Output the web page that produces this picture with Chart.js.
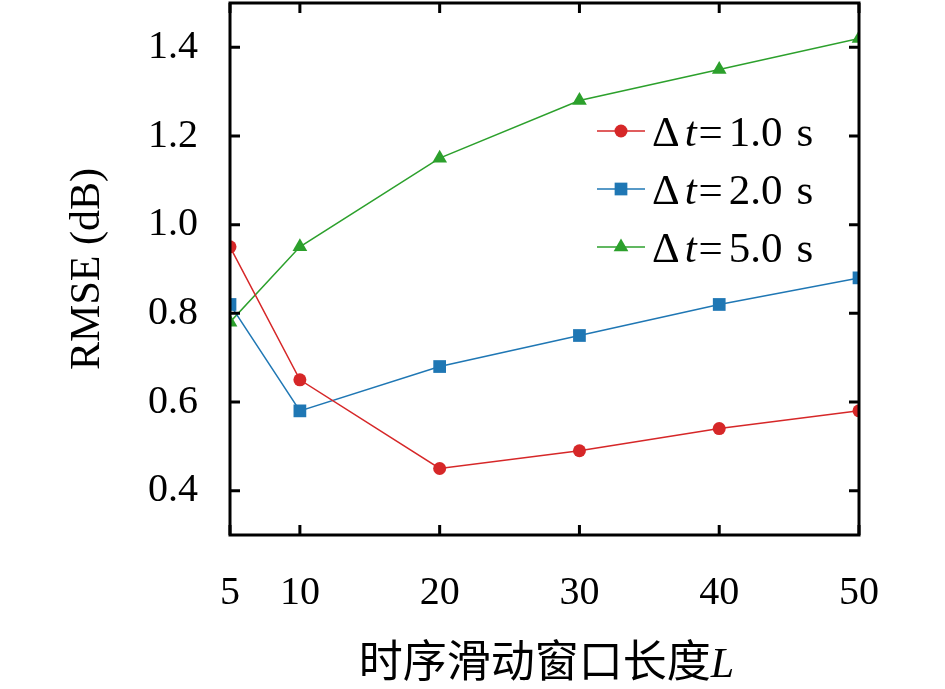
<!DOCTYPE html>
<html>
<head>
<meta charset="utf-8">
<script src="https://cdn.jsdelivr.net/npm/chart.js@4/dist/chart.umd.min.js"></script>
<style>
  html, body { margin: 0; padding: 0; background: #fff; }
  #wrap { width: 945px; height: 689px; }
</style>
</head>
<body>
<div id="wrap"><canvas id="rmseChart" width="945" height="689"></canvas></div>
<script>
const windowLengths = [5, 10, 20, 30, 40, 50];
const rmseDt1 = [0.95, 0.65, 0.45, 0.49, 0.54, 0.58];
const rmseDt2 = [0.82, 0.58, 0.68, 0.75, 0.82, 0.88];
const rmseDt5 = [0.78, 0.95, 1.15, 1.28, 1.35, 1.42];
const dtValues = ['1.0', '2.0', '5.0'];
const xTicks = [5, 10, 20, 30, 40, 50];
const yTicks = [0.4, 0.6, 0.8, 1.0, 1.2, 1.4];
const xTitle = '时序滑动窗口长度';
const xTitleVar = 'L';
const yTitle = 'RMSE (dB)';

const SERIF = '"Liberation Serif", "DejaVu Serif", serif';

function toPoints(ys) {
    return windowLengths.map((x, i) => ({ x: x, y: ys[i] }));
}

function makeSeries(ys, color, style, radius, dt) {
    return {
        label: 'Δt=' + dt + ' s',
        dt: dt,
        data: toPoints(ys),
        borderColor: color,
        backgroundColor: color,
        borderWidth: 1.5,
        pointStyle: style,
        pointRadius: radius,
        pointBackgroundColor: color,
        pointBorderWidth: 0,
        tension: 0,
        clip: 0
    };
}

// frame, inward ticks, legend and x title
const framePlugin = {
    id: 'frame',
    afterDraw(chart) {
        const ctx = chart.ctx;
        const a = chart.chartArea;
        const xs = chart.scales.x, ys = chart.scales.y;
        ctx.save();
        ctx.strokeStyle = '#000';
        ctx.lineWidth = 3;
        ctx.strokeRect(a.left, a.top, a.right - a.left, a.bottom - a.top);
        const tl = 10;
        ctx.beginPath();
        xTicks.forEach(v => {
            const px = xs.getPixelForValue(v);
            ctx.moveTo(px, a.bottom); ctx.lineTo(px, a.bottom - tl);
            ctx.moveTo(px, a.top); ctx.lineTo(px, a.top + tl);
        });
        yTicks.forEach(v => {
            const py = ys.getPixelForValue(v);
            ctx.moveTo(a.left, py); ctx.lineTo(a.left + tl, py);
            ctx.moveTo(a.right, py); ctx.lineTo(a.right - tl, py);
        });
        ctx.stroke();

        // legend
        const lx0 = 597, lx1 = 645, tx = 652;
        const rows = [131, 189, 247];
        const upright = '43px ' + SERIF, italic = 'italic 43px ' + SERIF;
        chart.data.datasets.forEach((ds, i) => {
            const y = rows[i];
            ctx.strokeStyle = ds.borderColor;
            ctx.fillStyle = ds.borderColor;
            ctx.lineWidth = 1.5;
            ctx.beginPath();
            ctx.moveTo(lx0, y); ctx.lineTo(lx1, y);
            ctx.stroke();
            Chart.helpers.drawPoint(ctx, {
                pointStyle: ds.pointStyle, radius: ds.pointRadius, rotation: 0, borderWidth: 0
            }, (lx0 + lx1) / 2, y);
            ctx.fillStyle = '#000';
            ctx.textBaseline = 'alphabetic';
            ctx.textAlign = 'left';
            const base = y + 15;
            const parts = [
                ['Δ', upright, 5], ['t', italic, 2], ['=', upright, 6],
                [ds.dt, upright, 14], ['s', upright, 0]
            ];
            let x = tx;
            parts.forEach(([txt, font, gap]) => {
                ctx.font = font;
                ctx.fillText(txt, x, base);
                x += ctx.measureText(txt).width + gap;
            });
        });

        // x axis title
        ctx.font = '44px "Noto Sans CJK SC", sans-serif';
        const w1 = ctx.measureText(xTitle).width;
        ctx.font = 'italic 42px ' + SERIF;
        const w2 = ctx.measureText(xTitleVar).width;
        let sx = (a.left + a.right) / 2 - (w1 + w2) / 2 + 2;
        const by = 677;
        ctx.font = '44px "Noto Sans CJK SC", sans-serif';
        ctx.fillText(xTitle, sx, by);
        ctx.font = 'italic 42px ' + SERIF;
        ctx.fillText(xTitleVar, sx + w1, by);
        ctx.restore();
    }
};

const ctx = document.getElementById('rmseChart').getContext('2d');
const chart = new Chart(ctx, {
    type: 'line',
    data: {
        datasets: [
            makeSeries(rmseDt1, '#d62728', 'circle', 6.5, dtValues[0]),
            makeSeries(rmseDt2, '#1f77b4', 'rect', 9, dtValues[1]),
            makeSeries(rmseDt5, '#2ca02c', 'triangle', 8.5, dtValues[2])
        ]
    },
    options: {
        responsive: false,
        animation: false,
        devicePixelRatio: 1,
        layout: { autoPadding: false, padding: { left: 0, top: 3, right: 86, bottom: 0 } },
        plugins: {
            legend: { display: false },
            tooltip: { enabled: false }
        },
        scales: {
            x: {
                type: 'linear',
                min: 5,
                max: 50,
                grid: { display: false, drawTicks: false },
                border: { display: false },
                afterBuildTicks: s => { s.ticks = xTicks.map(v => ({ value: v })); },
                afterFit: s => { s.height = 154; s.paddingLeft = 0; s.paddingRight = 0; },
                ticks: {
                    color: '#000',
                    padding: 34,
                    font: { family: SERIF, size: 40 },
                    callback: v => String(v)
                }
            },
            y: {
                min: 0.3,
                max: 1.5,
                grid: { display: false, drawTicks: false },
                border: { display: false },
                afterBuildTicks: s => { s.ticks = yTicks.map(v => ({ value: v })); },
                afterFit: s => { s.width = 230; s.paddingTop = 0; s.paddingBottom = 0; },
                ticks: {
                    color: '#000',
                    padding: 32,
                    font: { family: SERIF, size: 40 },
                    callback: v => Number(v).toFixed(1)
                },
                title: {
                    display: true,
                    text: yTitle,
                    color: '#000',
                    font: { family: SERIF, size: 42, lineHeight: 1.2 },
                    padding: { top: 63, bottom: 0 }
                }
            }
        }
    },
    plugins: [framePlugin]
});
</script>
</body>
</html>
